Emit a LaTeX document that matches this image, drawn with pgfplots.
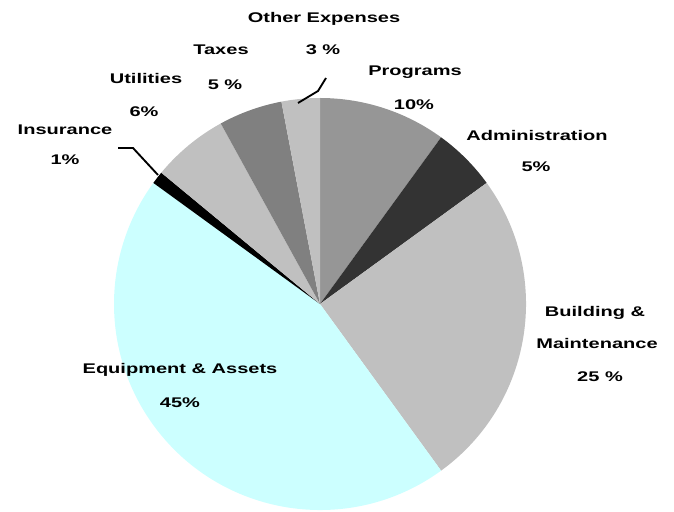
\documentclass[border=0pt]{standalone}
\usepackage{pgfplots}
\pgfplotsset{compat=1.18}
\usepackage{fontspec}
\newfontfamily\lab{Liberation Sans}[FakeStretch=1.43]
\definecolor{cprog}{HTML}{969696}
\definecolor{cadm}{HTML}{333333}
\definecolor{cbld}{HTML}{C0C0C0}
\definecolor{cequ}{HTML}{CCFFFF}
\definecolor{cins}{HTML}{000000}
\definecolor{cutl}{HTML}{C0C0C0}
\definecolor{ctax}{HTML}{808080}
\definecolor{coth}{HTML}{C0C0C0}
\begin{document}
\begin{tikzpicture}
\begin{axis}[
  scale only axis, width=505.5pt, height=383.25pt,
  xmin=0, xmax=674, ymin=0, ymax=511,
  hide axis, clip=true,
]
\path (axis cs:0,0) rectangle (axis cs:674,511);
% slices: percent values 10,5,25,45,1,6,5,3 starting at 90 deg, clockwise
\fill[cprog] (axis cs:320,207) -- ++(90:154.5pt)    arc[start angle=90,    end angle=54,     radius=154.5pt] -- cycle;
\fill[cadm]  (axis cs:320,207) -- ++(54:154.5pt)    arc[start angle=54,    end angle=36,     radius=154.5pt] -- cycle;
\fill[cbld]  (axis cs:320,207) -- ++(36:154.5pt)    arc[start angle=36,    end angle=-54,    radius=154.5pt] -- cycle;
\fill[cequ]  (axis cs:320,207) -- ++(-54:154.5pt)   arc[start angle=-54,   end angle=-216,   radius=154.5pt] -- cycle;
\fill[cins]  (axis cs:320,207) -- ++(-216:154.5pt)  arc[start angle=-216,  end angle=-219.6, radius=154.5pt] -- cycle;
\fill[cutl]  (axis cs:320,207) -- ++(-219.6:154.5pt) arc[start angle=-219.6, end angle=-241.2, radius=154.5pt] -- cycle;
\fill[ctax]  (axis cs:320,207) -- ++(-241.2:154.5pt) arc[start angle=-241.2, end angle=-259.2, radius=154.5pt] -- cycle;
\fill[coth]  (axis cs:320,207) -- ++(-259.2:154.5pt) arc[start angle=-259.2, end angle=-270,   radius=154.5pt] -- cycle;
% leader lines
\draw[line width=1.4pt] (axis cs:118,363) -- (axis cs:133,363) -- (axis cs:158,336);
\draw[line width=1.4pt] (axis cs:298,408) -- (axis cs:318,420) -- (axis cs:326,433);
% labels
\begin{scope}[every node/.style={font=\lab\bfseries\fontsize{10.5pt}{12pt}\selectfont, inner sep=0pt}]
\node at (axis cs:324,492) {Other Expenses};
\node at (axis cs:323,461) {3 \%};
\node at (axis cs:221,461) {Taxes};
\node at (axis cs:225,426) {5 \%};
\node at (axis cs:146,433) {Utilities};
\node at (axis cs:144,399) {6\%};
\node at (axis cs:65,381) {Insurance};
\node at (axis cs:65,351) {1\%};
\node at (axis cs:415,439) {Programs};
\node at (axis cs:414,406) {10\%};
\node at (axis cs:537,376) {Administration};
\node at (axis cs:536,344) {5\%};
\node at (axis cs:595,198) {Building \&};
\node at (axis cs:597,168) {Maintenance};
\node at (axis cs:600,134) {25 \%};
\node at (axis cs:180,141) {Equipment \& Assets};
\node at (axis cs:180,108) {45\%};
\end{scope}
\end{axis}
\end{tikzpicture}
\end{document}
